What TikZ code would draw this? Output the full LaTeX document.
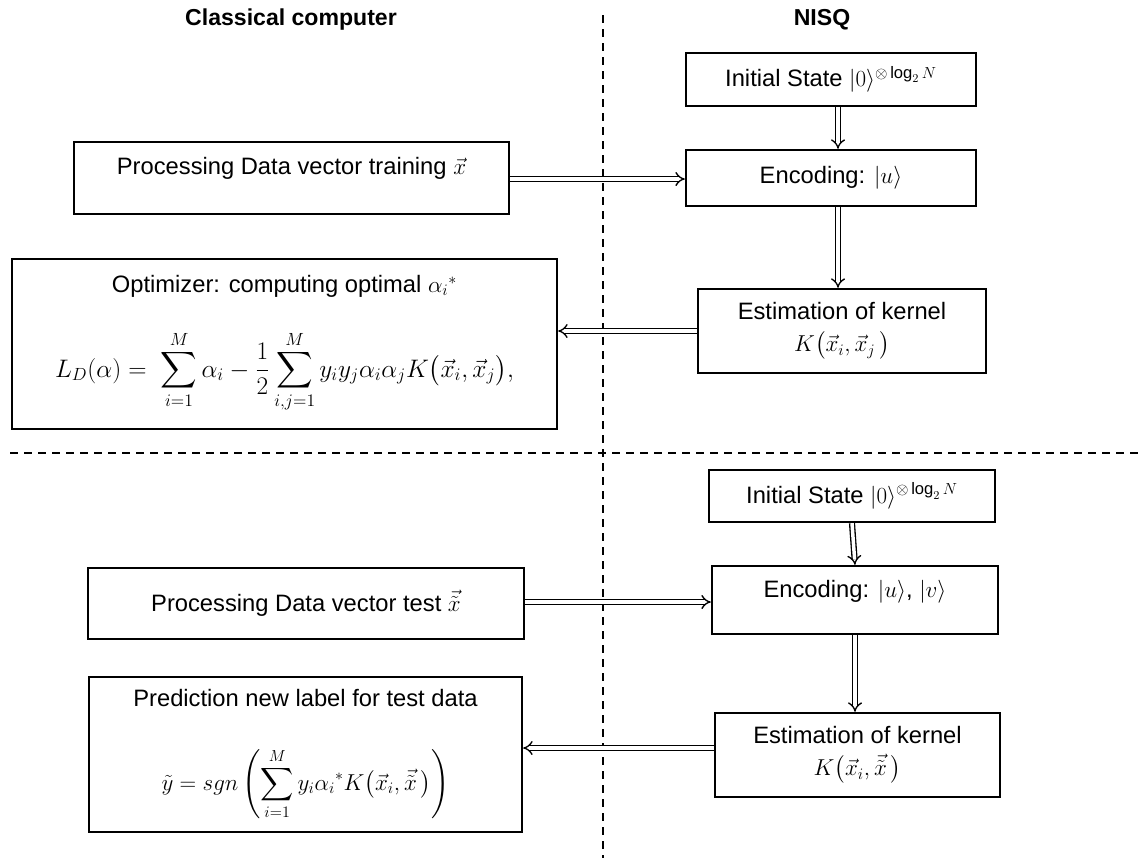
\documentclass[tikz,border=0pt]{standalone}
\usepackage{amsmath}
\usepackage{graphicx}
\usepackage{fontspec}
\setmainfont{Liberation Sans}
\usetikzlibrary{arrows.meta,calc}

% one drawing unit = 0.75pt; sizes below are given in the same unit
\tikzset{
  wh/.style 2 args={minimum width=#1*0.75pt, minimum height=#2*0.75pt},
  box/.style={draw, line width=1.7pt, rectangle, inner sep=0pt, anchor=center, align=center,
              font=\fontsize{17.8}{22}\selectfont},
  dbl/.style={double, double distance=2.6pt, line width=1pt, -{Implies[scale=1.25]}},
  sep/.style={line width=1.1pt, dash pattern=on 6pt off 4.5pt},
  head/.style={font=\fontsize{17.3}{20}\selectfont\bfseries}
}
\newcommand{\lift}[2]{\raisebox{#1}[\height][\depth]{#2}}

\begin{document}
\begin{tikzpicture}[x=0.75pt, y=-0.75pt]
  \useasboundingbox (0,0) rectangle (1147,860);

  % column headings
  \node[head] (hc) at (291,20) {Classical computer};
  \node[head] (hq) at (822,20) {NISQ};

  % separators between the two machines and the two phases
  \coordinate (vt) at (603,15);
  \coordinate (vb) at (603,858);
  \coordinate (hl) at (10,453);
  \coordinate (hr) at (1140,453);
  \draw[sep] (vt) -- (vb);
  \draw[sep] (hl) -- (hr);

  % training phase
  \node[box, wh={290}{53}] (ini1) at (831,79.5)
    {Initial State $|0\rangle^{\otimes\log_2 N}$};
  \node[box, wh={290}{56}] (enc1) at (831,178)
    {Encoding: $|u\rangle$};
  \node[box, wh={288}{84}] (est1) at (842,331)
    {Estimation of kernel\\[2pt] $K\bigl(\vec{x}_i,\vec{x}_j\,\bigr)$};
  \node[box, wh={435}{72}] (proc1) at (291.5,178)
    {\lift{7.5pt}{Processing Data vector training $\vec{x}$}};
  \node[box, wh={545}{170}] (opt) at (284.5,344)
    {Optimizer: computing optimal $\alpha_i{}^{*}$\\[24pt]
     \scalebox{1.1}{$\displaystyle L_D(\alpha) =\; \sum_{i=1}^{M}\alpha_i - \frac{1}{2}\sum_{i,j=1}^{M} y_i y_j \alpha_i\alpha_j K\bigl(\vec{x}_i,\vec{x}_j\bigr),$}};

  % test phase
  \node[box, wh={286}{52}] (ini2) at (852,496)
    {Initial State $|0\rangle^{\otimes\log_2 N}$};
  \node[box, wh={286}{68}] (enc2) at (855,600)
    {\lift{6pt}{Encoding: $|u\rangle$, $|v\rangle$}};
  \node[box, wh={285}{84}] (est2) at (857.5,755)
    {Estimation of kernel\\[2pt] $K\bigl(\vec{x}_i,\vec{\tilde{x}}\,\bigr)$};
  \node[box, wh={436}{71}] (proc2) at (306,603.5)
    {Processing Data vector test $\vec{\tilde{x}}$};
  \node[box, wh={433}{155}] (pred) at (305.5,754.5)
    {Prediction new label for test data\\[30pt]
     $\displaystyle \tilde{y} = sgn\left(\sum_{i=1}^{M} y_i\alpha_i{}^{*}K\bigl(\vec{x}_i,\vec{\tilde{x}}\,\bigr)\right)$};

  % data flow
  \draw[dbl] ($(ini1.south)+(7,0)$) -- ($(ini1.south |- enc1.north)+(7,0)$);
  \draw[dbl] ($(enc1.south)+(7,0)$) -- ($(enc1.south |- est1.north)+(7,0)$);
  \draw[dbl] ($(proc1.east)+(0,1)$) -- ($(proc1.east -| enc1.west)+(0,1)$);
  \draw[dbl] (est1.west) -- (est1.west -| opt.east);

  \draw[dbl] (ini2.south) -- (enc2.north);
  \draw[dbl] (enc2.south) -- (enc2.south |- est2.north);
  \draw[dbl] ($(proc2.east)+(0,-1.5)$) -- ($(proc2.east -| enc2.west)+(0,-1.5)$);
  \draw[dbl] ($(est2.west)+(0,-7)$) -- ($(est2.west -| pred.east)+(0,-7)$);
\end{tikzpicture}
\end{document}
